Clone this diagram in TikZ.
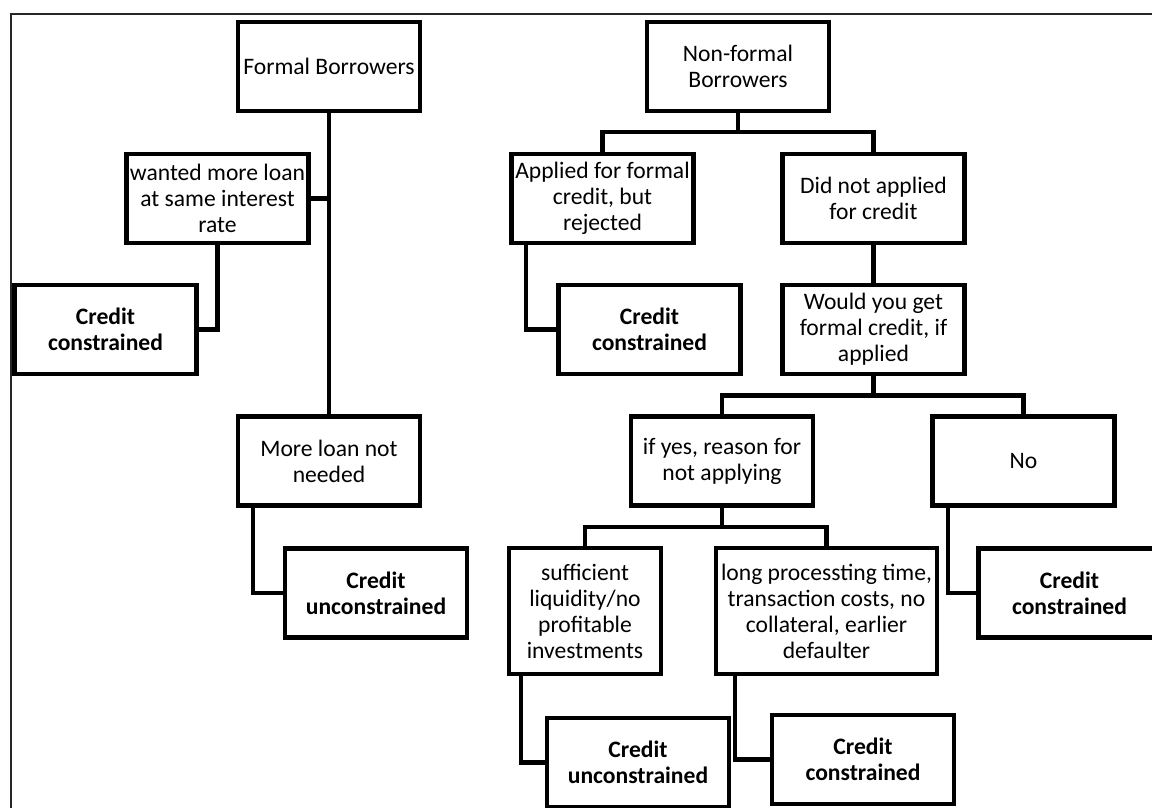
\documentclass[tikz,border=0pt]{standalone}
\usepackage{fontspec}
\setmainfont{Carlito}
\usetikzlibrary{positioning}

\begin{document}
\begin{tikzpicture}[line cap=rect,line join=miter,x=0.5pt,y=-0.5pt,
  box/.style={draw,line width=2.3pt,minimum width=91pt,minimum height=44.5pt,
    align=center,inner sep=0.5pt,font=\fontsize{11.8pt}{13pt}\selectfont},
  res/.style={box,font=\fontsize{11.8pt}{13pt}\selectfont\bfseries},
  link/.style={line width=2.2pt}]
\path[use as bounding box,clip] (0,0) rectangle (1152,808);
% outer frame (only top and left edge are in view)
\draw[line width=1pt,color=black!85] (1170,14) -| (11,830);

% formal borrowers
\node[box] (fb) at (329,66.5) {Formal Borrowers};
\node[box] (wm) at (217.5,198.5) {wanted more loan\\at same interest\\rate};
\node[res] (cc1) at (105.5,329.5) {Credit\\constrained};
\node[box] (ml) at (329,461) {More loan not\\needed};
\node[res] (cu1) at (376,593) {Credit\\unconstrained};

\draw[link] (fb.south) -- (ml.north);
\draw[link] (wm.east) -- (wm.east -| fb.south);
\draw[link] (wm.south) |- (cc1.east);
\draw[link] ([xshift=8.5pt]ml.south west) |- (cu1.west);

% non-formal borrowers
\node[box] (nf) at (738,66.5) {Non-formal\\Borrowers};
\node[box] (ap) at (602.5,198.5) {Applied for formal\\credit, but\\rejected};
\node[box] (dn) at (873.5,198.5) {Did not applied\\for credit};
\node[res] (cc2) at (649.5,329.5) {Credit\\constrained};
\node[box] (wy) at (873.5,329.5) {Would you get\\formal credit, if\\applied};
\node[box] (iy) at (722,461) {if yes, reason for\\not applying};
\node[box] (no) at (1023.5,461) {No};
\node[res] (cc3) at (1069.5,593) {Credit\\constrained};
\node[box,minimum width=76pt,minimum height=63pt] (sl) at (585,611)
  {sufficient\\liquidity/no\\profitable\\investments};
\node[box,minimum width=110.5pt,minimum height=63pt] (lp) at (826.5,611)
  {long processting time,\\transaction costs, no\\collateral, earlier\\defaulter};
\node[res] (cu2) at (638,762.5) {Credit\\unconstrained};
\node[res] (cc4) at (863,759.5) {Credit\\constrained};

\draw[link] (nf.south) -- ++(0,19) -| (ap.north);
\draw[link] (nf.south) -- ++(0,19) -| (dn.north);
\draw[link] ([xshift=8.5pt]ap.south west) |- (cc2.west);
\draw[link] (dn.south) -- (wy.north);
\draw[link] (wy.south) -- ++(0,19) -| (iy.north);
\draw[link] (wy.south) -- ++(0,19) -| (no.north);
\draw[link] ([xshift=9pt]no.south west) |- (cc3.west);
\draw[link] (iy.south) -- ++(0,19) -| (sl.north);
\draw[link] (iy.south) -- ++(0,19) -| (lp.north);
\draw[link] ([xshift=7pt]sl.south west) |- (cu2.west);
\draw[link] ([xshift=10.5pt]lp.south west) |- (cc4.west);
\end{tikzpicture}
\end{document}
